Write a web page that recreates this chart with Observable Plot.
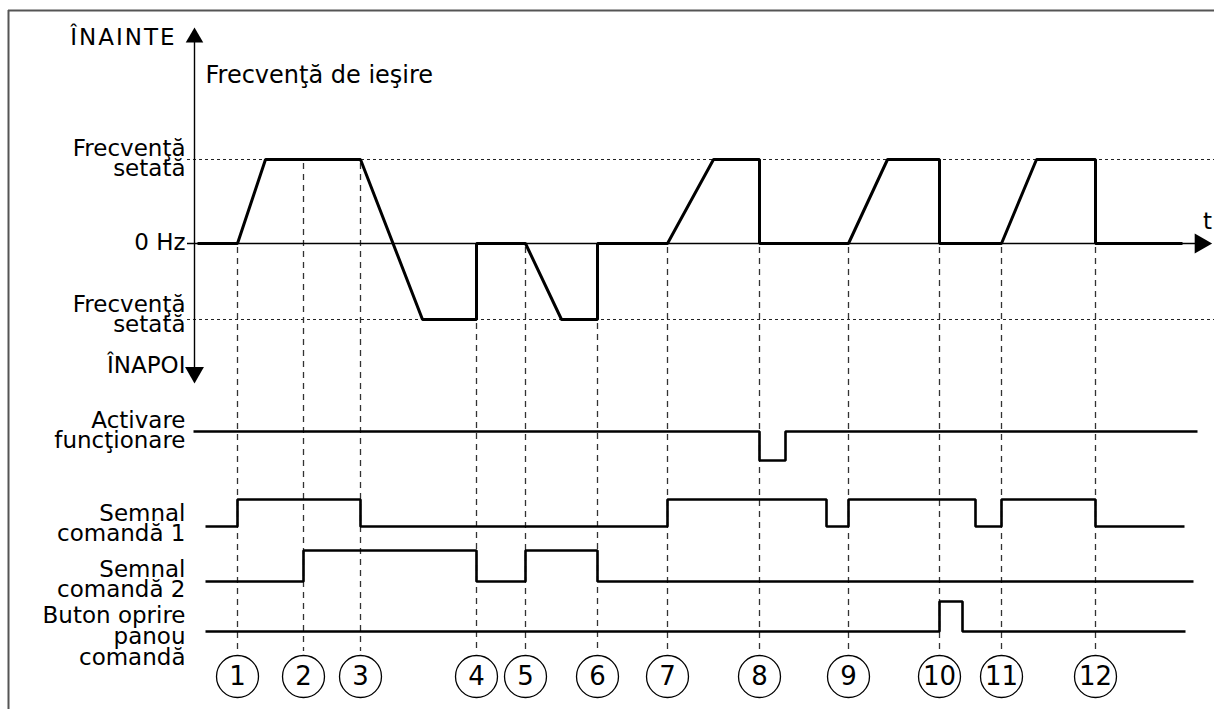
<!DOCTYPE html>
<html><head><meta charset="utf-8">
<script src="https://cdn.jsdelivr.net/npm/d3@7"></script>
<script src="https://cdn.jsdelivr.net/npm/@observablehq/plot@0.6"></script>
<style>
body{margin:0;background:#fff}
#chart{position:absolute;left:0;top:0}
</style>
</head><body><div id="chart"></div>
<script>
// ---------- DATA (time units along x, states along rows) ----------
const eventLabels = ["1","2","3","4","5","6","7","8","9","10","11","12"];
const eventTimes  = [237,303,360,476,525,597,667,759,848,939,1001,1095];

// output frequency: +1 = set frequency forward, 0 = 0 Hz, -1 = set frequency reverse
const freqTimes  = [197,237,265,360,422,476,476,525,561,597,597,667,713,759,759,848,887,939,939,1001,1036,1095,1095,1182];
const freqValues = [0,  0,  1,  1,  -1, -1, 0,  0,  -1, -1, 0,  0,  1,  1,  0,  0,  1,  1,  0,  0,   1,   1,   0,   0];

// digital signals (step-after): 1 = high, 0 = low
const runTimes   = [193,759,785,1197];
const runValues  = [1,  0,  1,  1];
const cmd1Times  = [205,237,360,667,826,848,975,1001,1095,1184];
const cmd1Values = [0,  1,  0,  1,  0,  1,  0,  1,   0,   0];
const cmd2Times  = [205,303,476,525,597,1193];
const cmd2Values = [0,  1,  0,  1,  0,  0];
const stopTimes  = [205,939,962,1185];
const stopValues = [0,  1,  0,  0];

const titleText   = "Frecvenţă de ieşire";
const forwardText = "ÎNAINTE";
const reverseText = "ÎNAPOI";
const setText     = "Frecvenţă\nsetată";
const zeroText    = "0 Hz";
const timeText    = "t";
const runText     = "Activare\nfuncţionare";
const cmd1Text    = "Semnal\ncomandă 1";
const cmd2Text    = "Semnal\ncomandă 2";
const stopText    = "Buton oprire\npanou\ncomandă";

// ---------- LAYOUT ----------
const W = 1214, H = 709;
const L = {
  axisX: 194, labelX: 185,
  freq: {hi: 159, zero: 243, lo: 319},
  run:  {hi: 431, lo: 460},
  cmd1: {hi: 499, lo: 526},
  cmd2: {hi: 550, lo: 581},
  stop: {hi: 601, lo: 631},
  circleY: 676, dashEnd: 651,
  font: "DejaVu Sans", fs: 23
};
const freqY = v => v >= 0 ? L.freq.zero - v * (L.freq.zero - L.freq.hi) : L.freq.zero - v * (L.freq.lo - L.freq.zero);

const freqPts = freqTimes.map((t, i) => ({t, y: freqY(freqValues[i])}));
const sig = (times, values, row) => times.map((t, i) => ({t, y: values[i] ? row.hi : row.lo}));

// lowest point of the frequency trace at a given time
function lowestAt(t) {
  let m = -Infinity;
  for (let i = 0; i < freqPts.length - 1; i++) {
    const a = freqPts[i], b = freqPts[i + 1];
    if (t >= a.t && t <= b.t) {
      const y = b.t === a.t ? Math.max(a.y, b.y) : a.y + (b.y - a.y) * (t - a.t) / (b.t - a.t);
      m = Math.max(m, y);
    }
  }
  return m;
}
const events = eventTimes.map((t, i) => ({t, label: eventLabels[i], y1: lowestAt(t) + 4}));

const labels = [
  {text: setText,  y: L.freq.hi},
  {text: zeroText, y: L.freq.zero},
  {text: setText,  y: L.freq.lo - 4},
  {text: reverseText, y: 366},
  {text: runText,  y: L.run.hi},
  {text: cmd1Text, y: L.cmd1.lo - 2},
  {text: cmd2Text, y: L.cmd2.lo - 1},
  {text: stopText, y: 637}
];

const lineOpts = {x: "t", y: "y", stroke: "black", strokeWidth: 2.6, strokeLinejoin: "miter", strokeLinecap: "butt"};

const chart = Plot.plot({
  width: W, height: H,
  margin: 0,
  x: {type: "linear", domain: [0, W], range: [0, W], axis: null},
  y: {type: "linear", domain: [0, H], range: [0, H], axis: null},
  marks: [
    // frame
    Plot.ruleX([8], {y1: 10, y2: H, stroke: "#555", strokeWidth: 2}),
    Plot.ruleY([10], {x1: 8, x2: W, stroke: "#555", strokeWidth: 2}),
    // set-frequency dotted lines
    Plot.ruleY([L.freq.hi, L.freq.lo], {x1: 187, x2: W, stroke: "#222", strokeWidth: 1, strokeDasharray: "3,3"}),
    // event dashed lines
    Plot.ruleX(events, {x: "t", y1: "y1", y2: L.dashEnd, stroke: "#333", strokeWidth: 1.3, strokeDasharray: "6,5"}),
    // axes
    Plot.ruleX([L.axisX], {y1: 40, y2: 368, stroke: "black", strokeWidth: 1.4}),
    Plot.ruleY([L.freq.zero], {x1: 187, x2: 1196, stroke: "black", strokeWidth: 1.4}),
    Plot.dot([{x: L.axisX, y: 37}], {x: "x", y: "y", symbol: "triangle", r: 6.5, fill: "black", stroke: null}),
    Plot.dot([{x: L.axisX, y: 372}], {x: "x", y: "y", symbol: "triangle", r: 7, rotate: 180, fill: "black", stroke: null}),
    Plot.dot([{x: 1200, y: L.freq.zero}], {x: "x", y: "y", symbol: "triangle", r: 7.5, rotate: 90, fill: "black", stroke: null}),
    // traces
    Plot.line(freqPts, {...lineOpts, strokeWidth: 3}),
    Plot.line(sig(runTimes, runValues, L.run), {...lineOpts, curve: "step-after"}),
    Plot.line(sig(cmd1Times, cmd1Values, L.cmd1), {...lineOpts, curve: "step-after"}),
    Plot.line(sig(cmd2Times, cmd2Values, L.cmd2), {...lineOpts, curve: "step-after"}),
    Plot.line(sig(stopTimes, stopValues, L.stop), {...lineOpts, curve: "step-after"}),
    // event circles
    Plot.dot(events, {x: "t", y: L.circleY, r: 21, fill: "white", stroke: "black", strokeWidth: 1.3}),
    Plot.text(events, {x: "t", y: L.circleY, text: "label", fontSize: 26, fontFamily: L.font, fill: "black", lineAnchor: "middle"}),
    // labels
    Plot.text(labels, {x: L.labelX, y: "y", text: "text", textAnchor: "end", lineAnchor: "middle", lineHeight: 0.9, fontSize: L.fs, fontFamily: L.font, fill: "black"}),
    Plot.text([forwardText], {x: 176, y: 37, text: d => d, textAnchor: "end", lineAnchor: "middle", fontSize: L.fs, fontFamily: L.font, fill: "black"}),
    Plot.text([titleText], {x: 205, y: 75, text: d => d, textAnchor: "start", lineAnchor: "middle", fontSize: 24, fontFamily: L.font, fill: "black"}),
    Plot.text([timeText], {x: 1207, y: 221, text: d => d, textAnchor: "middle", lineAnchor: "middle", fontSize: L.fs, fontFamily: L.font, fill: "black"})
  ]
});
d3.select(chart).selectAll("text").filter(function(){ return this.textContent === forwardText; }).attr("letter-spacing", "2px");
document.getElementById("chart").appendChild(chart);
</script>
</body></html>
